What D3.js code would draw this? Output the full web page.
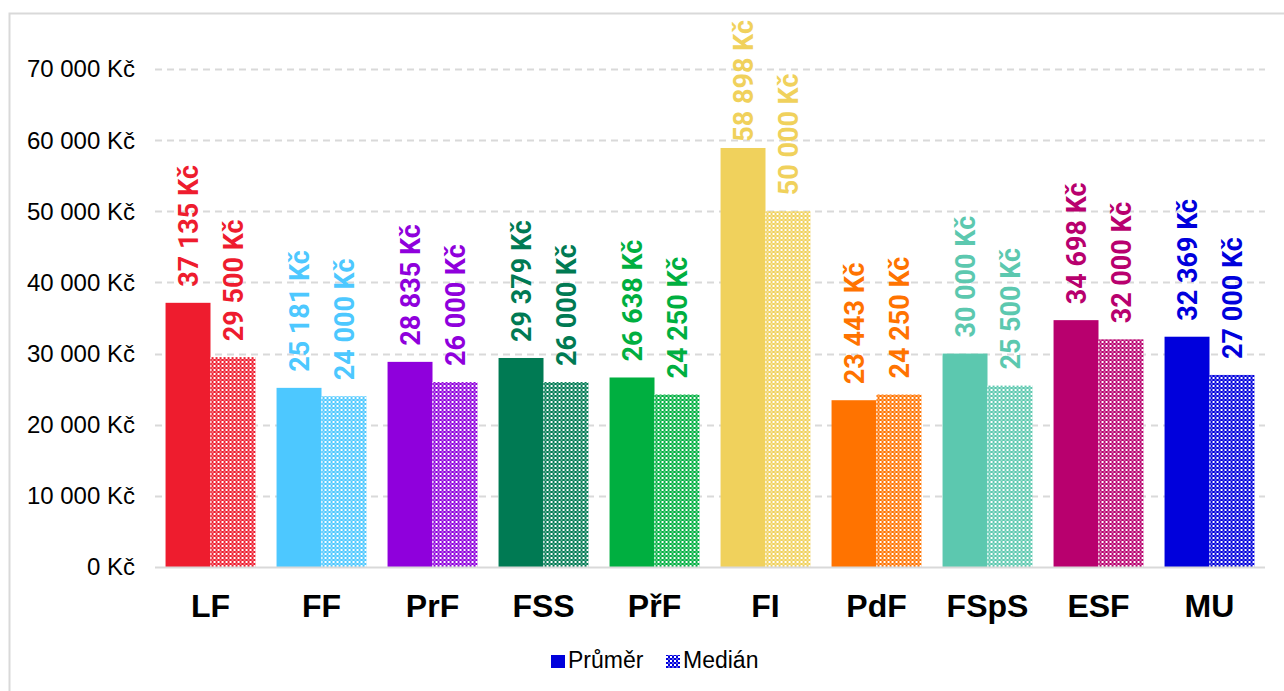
<!DOCTYPE html>
<html>
<head>
<meta charset="utf-8">
<script src="https://cdn.jsdelivr.net/npm/d3@7"></script>
<style>
  body { margin: 0; background: #fff; }
  svg { display: block; }
</style>
</head>
<body>
<div id="wrapper"></div>
<script>
const faculties = ["LF", "FF", "PrF", "FSS", "PřF", "FI", "PdF", "FSpS", "ESF", "MU"];
const average = [37135, 25181, 28835, 29379, 26638, 58898, 23443, 30000, 34698, 32369];
const median = [29500, 24000, 26000, 26000, 24250, 50000, 24250, 25500, 32000, 27000];
const colors = ["#ee1c2e", "#4dc8ff", "#8f00dc", "#007a53", "#00af40", "#f0d15c", "#ff7300", "#5cc8af", "#b8006e", "#0000dc"];
const yTicks = [0, 10000, 20000, 30000, 40000, 50000, 60000, 70000];
const seriesNames = ["Průměr", "Medián"];

function chart() {
    let dimensions = {
        width: 1284,
        height: 691,
        margin: { top: 69, right: 19, bottom: 124, left: 155 }
    };
    dimensions.boundedWidth = dimensions.width - dimensions.margin.left - dimensions.margin.right;
    dimensions.boundedHeight = dimensions.height - dimensions.margin.top - dimensions.margin.bottom;

    const fmt = v => d3.format(",")(v).replace(/,/g, " ") + " Kč";

    const svg = d3.select("#wrapper").append("svg")
        .attr("width", dimensions.width)
        .attr("height", dimensions.height);

    // checker patterns, one per colour
    const defs = svg.append("defs");
    colors.forEach((c, i) => {
        const p = defs.append("pattern")
            .attr("id", "pat" + i)
            .attr("patternUnits", "userSpaceOnUse")
            .attr("width", 4).attr("height", 4);
        p.append("rect").attr("width", 4).attr("height", 4).attr("fill", c);
        p.append("rect").attr("width", 2).attr("height", 2).attr("fill", "#fff");
        p.append("rect").attr("x", 2).attr("y", 2).attr("width", 2).attr("height", 2).attr("fill", "#fff").attr("opacity", 0.35);
    });

    // frame
    svg.append("rect")
        .attr("x", 9.5).attr("y", 13.5)
        .attr("width", 1300).attr("height", 700)
        .attr("fill", "none").attr("stroke", "#d9d9d9").attr("stroke-width", 2);

    const bounds = svg.append("g")
        .attr("transform", `translate(${dimensions.margin.left},${dimensions.margin.top})`);

    const xScale = d3.scaleBand()
        .domain(faculties)
        .range([0, dimensions.boundedWidth])
        .paddingInner(0.19)
        .paddingOuter(0.095);

    const xSub = d3.scaleBand()
        .domain([0, 1])
        .range([0, xScale.bandwidth()]);

    const yScale = d3.scaleLinear()
        .domain([0, 70000])
        .range([dimensions.boundedHeight, 0]);

    // grid
    bounds.append("g").selectAll("line")
        .data(yTicks.filter(d => d > 0))
        .join("line")
        .attr("x1", 0).attr("x2", dimensions.boundedWidth)
        .attr("y1", d => Math.round(yScale(d)) + 0.5)
        .attr("y2", d => Math.round(yScale(d)) + 0.5)
        .attr("stroke", "#d9d9d9")
        .attr("stroke-width", 2)
        .attr("stroke-dasharray", "7 5");

    // y labels
    bounds.append("g").selectAll("text")
        .data(yTicks)
        .join("text")
        .attr("x", -20)
        .attr("y", d => yScale(d))
        .attr("dy", "0.35em")
        .attr("text-anchor", "end")
        .attr("font-family", "Liberation Sans, Arial, sans-serif")
        .attr("font-size", 24)
        .attr("fill", "#000")
        .text(fmt);

    const rows = faculties.map((f, i) => ({ f, i, vals: [average[i], median[i]] }));

    const groups = bounds.selectAll(".grp")
        .data(rows)
        .join("g")
        .attr("class", "grp")
        .attr("transform", d => `translate(${xScale(d.f)},0)`);

    groups.selectAll("rect")
        .data(d => d.vals.map((v, k) => ({ v, k, i: d.i })))
        .join("rect")
        .attr("x", d => xSub(d.k))
        .attr("width", xSub.bandwidth())
        .attr("y", d => yScale(d.v))
        .attr("height", d => dimensions.boundedHeight - yScale(d.v))
        .attr("fill", d => d.k === 0 ? colors[d.i] : `url(#pat${d.i})`);

    const labels = groups.selectAll("text")
        .data(d => d.vals.map((v, k) => ({ v, k, i: d.i })))
        .join("text")
        .attr("dy", "0.36em")
        .attr("text-anchor", "start")
        .attr("font-family", "Roboto, Arial, sans-serif")
        .attr("font-weight", "bold")
        .attr("font-size", 27)
        .attr("fill", d => colors[d.i])
        .text(d => fmt(d.v));

    // keep labels inside the chart area (pushed down like Excel does)
    const topLimit = 20 - dimensions.margin.top;
    labels.attr("transform", function (d) {
        const len = this.getComputedTextLength();
        const start = Math.max(yScale(d.v) - 16, topLimit + len);
        return `translate(${xSub(d.k) + xSub.bandwidth() / 2},${start}) rotate(-90)`;
    });

    // baseline
    bounds.append("line")
        .attr("x1", 0).attr("x2", dimensions.boundedWidth)
        .attr("y1", dimensions.boundedHeight + 0.5).attr("y2", dimensions.boundedHeight + 0.5)
        .attr("stroke", "#d9d9d9").attr("stroke-width", 2);

    // category labels
    bounds.append("g").selectAll("text")
        .data(faculties)
        .join("text")
        .attr("x", d => xScale(d) + xScale.bandwidth() / 2)
        .attr("y", dimensions.boundedHeight + 50)
        .attr("text-anchor", "middle")
        .attr("font-family", "Liberation Sans, Arial, sans-serif")
        .attr("font-weight", "bold")
        .attr("font-size", 32)
        .attr("fill", "#000")
        .text(d => d);

    // legend
    const legend = svg.append("g").attr("transform", "translate(551,668)");
    const lx = [0, 115];
    seriesNames.forEach((s, k) => {
        const g = legend.append("g").attr("transform", `translate(${lx[k]},0)`);
        g.append("rect")
            .attr("x", 0).attr("y", -13).attr("width", 14).attr("height", 13)
            .attr("fill", k === 0 ? colors[9] : "url(#pat9)");
        g.append("text")
            .attr("x", 17).attr("y", 0)
            .attr("font-family", "Liberation Sans, Arial, sans-serif")
            .attr("font-size", 23)
            .attr("fill", "#000")
            .text(s);
    });
}

chart();
</script>
</body>
</html>
